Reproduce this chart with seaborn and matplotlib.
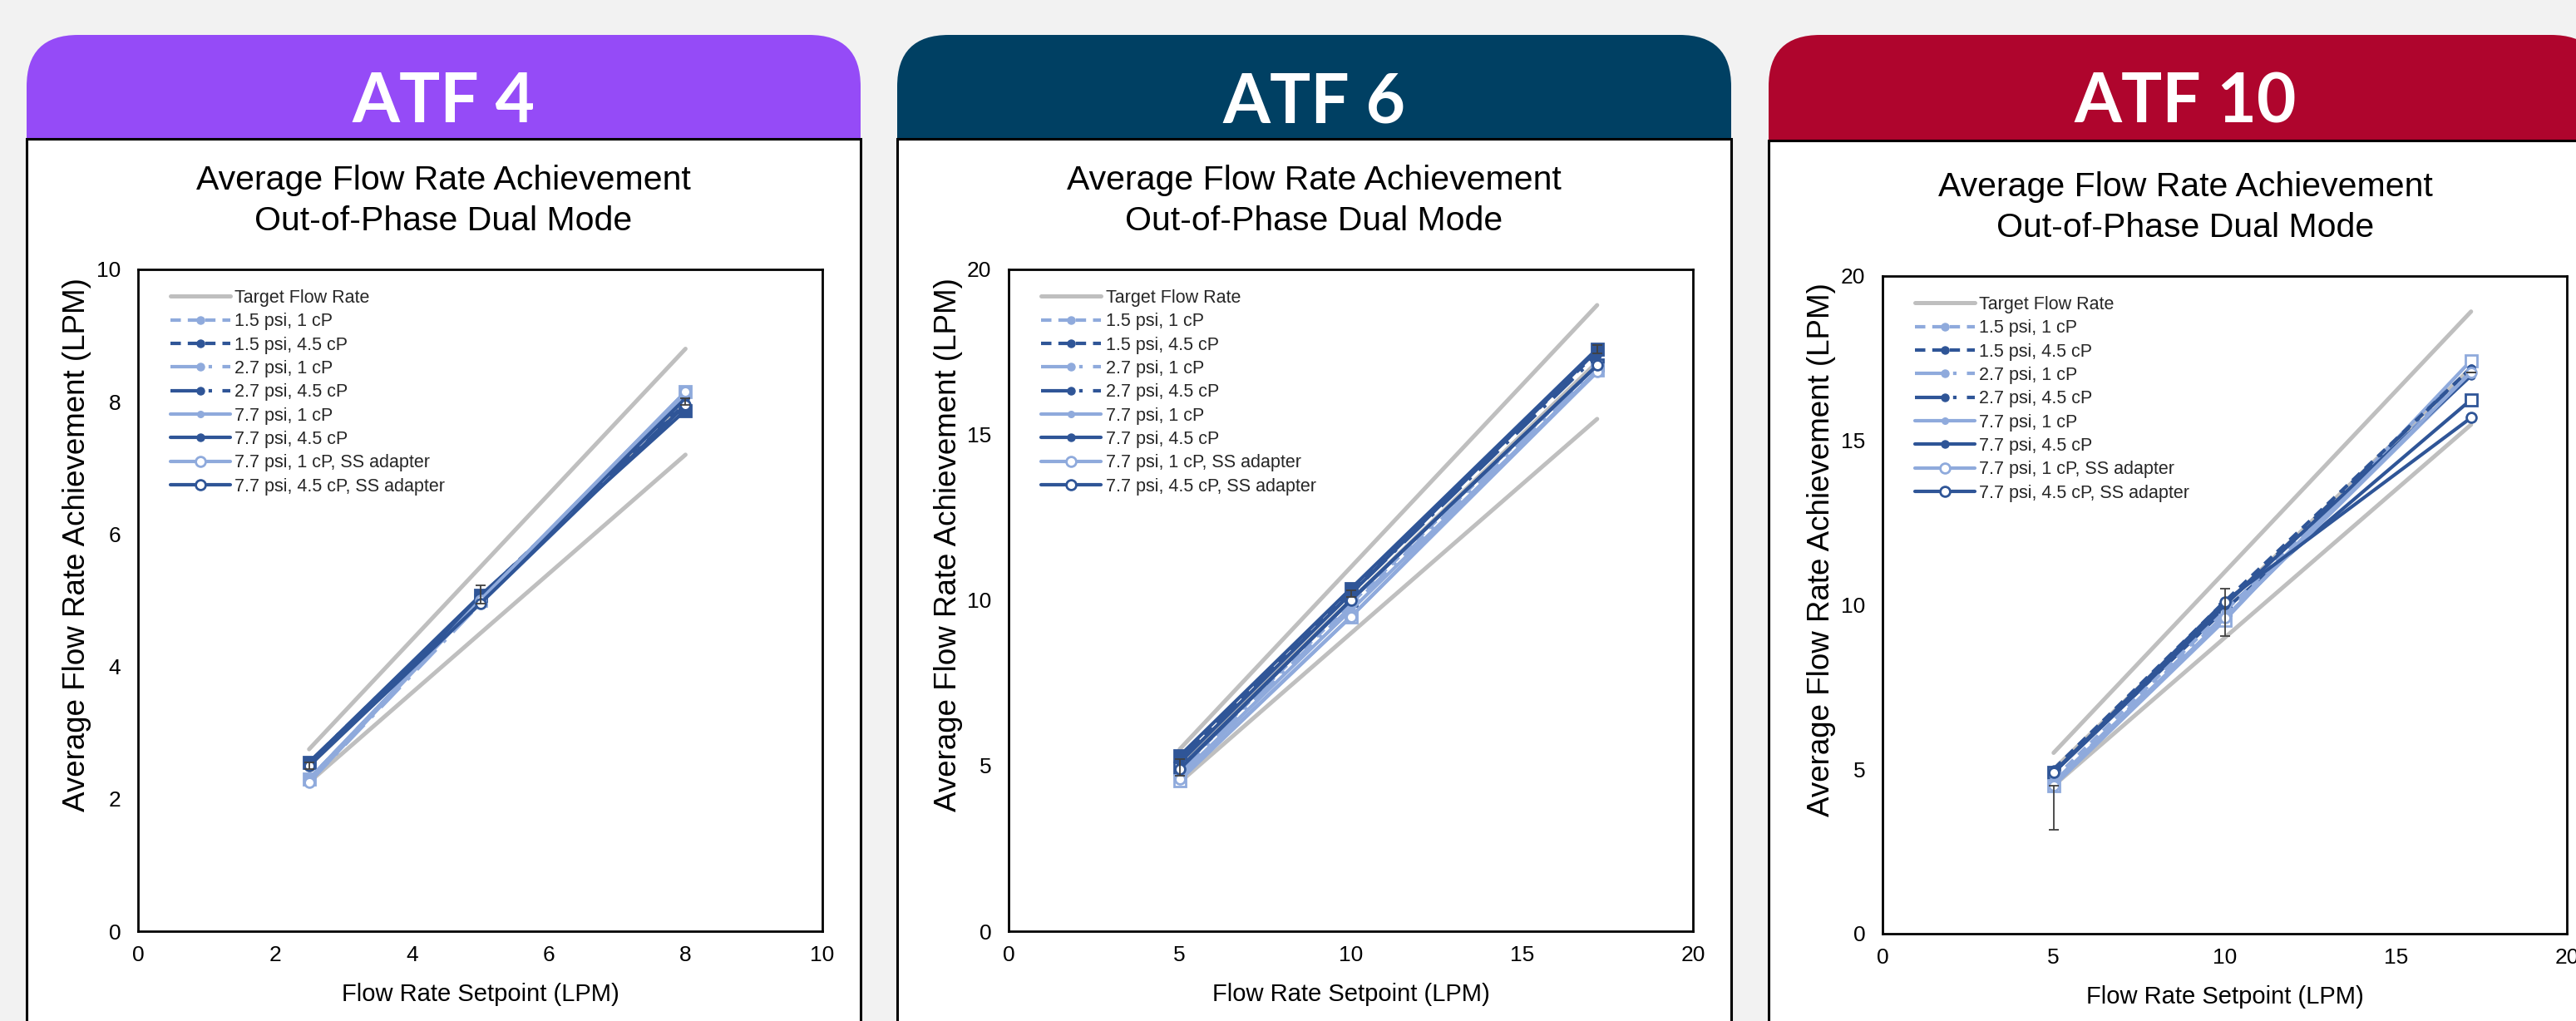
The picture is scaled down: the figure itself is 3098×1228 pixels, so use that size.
"""
Three ATF panels: average flow rate achievement, out-of-phase dual mode.
"""

## Import packages
import matplotlib
matplotlib.use("Agg")
import matplotlib.pyplot as plt
from matplotlib.patches import FancyBboxPatch, Rectangle
import seaborn as sns


## Data
panel_names = ["ATF 4", "ATF 6", "ATF 10"]
series_labels = ["1.5 psi, 1 cP", "1.5 psi, 4.5 cP", "2.7 psi, 1 cP", "2.7 psi, 4.5 cP",
                 "7.7 psi, 1 cP", "7.7 psi, 4.5 cP",
                 "7.7 psi, 1 cP, SS adapter", "7.7 psi, 4.5 cP, SS adapter"]

# ATF 4
atf4_setpoints = [2.5, 5, 8]
atf4_target = [2.5, 5, 8]
atf4_upper = [2.75, 8.8]
atf4_lower = [2.25, 7.2]
atf4_flow = [[2.30, 5.00, 8.10],
             [2.50, 5.05, 8.00],
             [2.25, 4.95, 8.05],
             [2.55, 5.05, 7.95],
             [2.30, 5.00, 8.10],
             [2.55, 5.00, 8.05],
             [2.25, 5.00, 8.15],
             [2.50, 4.95, 7.95]]
atf4_repeat = [[2.30, 5.00, 8.15],
               [2.55, 5.07, 7.87]]
atf4_err_lo = [0.05, 0.10, 0.05]
atf4_err_hi = [0.05, 0.17, 0.05]

# ATF 6
atf6_setpoints = [5, 10, 17.2]
atf6_target = [5, 10, 17.2]
atf6_upper = [5.5, 18.92]
atf6_lower = [4.5, 15.48]
atf6_flow = [[4.90, 9.90, 17.10],
             [5.20, 10.30, 17.50],
             [4.80, 9.80, 17.00],
             [5.20, 10.20, 17.40],
             [4.70, 9.70, 16.90],
             [5.10, 10.20, 17.55],
             [4.60, 9.50, 16.90],
             [4.90, 10.00, 17.10]]
atf6_repeat = [[5.30, 10.35, 17.60],
               [4.93, 10.00, 17.10],
               [4.56, 9.50, 16.95]]
atf6_err_lo = [0.40, 0.10, 0.10]
atf6_err_hi = [0.10, 0.10, 0.17]

# ATF 10
atf10_setpoints = [5, 10, 17.2]
atf10_target = [5, 10, 17.2]
atf10_upper = [5.5, 18.92]
atf10_lower = [4.5, 15.48]
atf10_flow = [[4.70, 9.80, 17.10],
              [5.00, 10.10, 17.20],
              [4.60, 9.70, 17.00],
              [4.90, 10.00, 17.20],
              [4.60, 9.60, 17.00],
              [4.90, 10.00, 16.97],
              [4.50, 9.60, 17.07],
              [4.90, 10.10, 15.69]]
atf10_repeat = [[4.90, 9.86, 16.24],
                [4.50, 9.53, 17.43]]
atf10_err_lo = [1.34, 0.54, 0.00]
atf10_err_hi = [0.00, 0.90, 0.00]


## Styles
light = '#8FAADC'
dark = '#2F5597'
grey = '#BFBFBF'
dash = (0, (3, 2))
ldd = (0, (8, 3, 1, 3))
series_colors = [light, dark, light, dark, light, dark, light, dark]
series_ls = [dash, dash, ldd, ldd, '-', '-', '-', '-']
series_ms = [6.5, 6.5, 6.5, 6.5, 5.5, 6.5, 8.5, 8.5]
series_open = [False] * 6 + [True, True]

# square-marker repeats: (colour, open?)
repeat_styles = [[(light, False), (dark, False)],
                 [(dark, False), (dark, True), (light, True)],
                 [(dark, True), (light, True)]]

## Layout (pixels)
W, H = 3098, 1228
box_left = [32, 1079, 2127]
box_w = 1003
header_colors = ['#954BF7', '#004063', '#AF052D']
axes_px = [(166, 324, 989, 1120), (1213, 324, 2036, 1120), (2264, 332, 3087, 1123)]
dy = [0, 0, 8]

# Font sizes
head = 59
title = 29.5
axlab = 21
ylab = 26.5
tick = 19
leg = 15.5

sns.set_theme(context='paper', style='white')
plt.rcParams['font.family'] = ['Liberation Sans', 'DejaVu Sans']

fig = plt.figure(figsize=(W / 100, H / 100), dpi=100, facecolor='#F2F2F2')

# Background canvas in pixel units
bg = fig.add_axes([0, 0, 1, 1])
bg.set_xlim(0, W)
bg.set_ylim(H, 0)
bg.axis('off')

for i in range(3):
    x0 = box_left[i]
    cx = x0 + box_w / 2
    bg.add_patch(FancyBboxPatch((x0, 42), box_w, 200,
                                boxstyle='round,pad=0,rounding_size=62',
                                fc=header_colors[i], ec='none'))
    bg.add_patch(Rectangle((x0, 167 + dy[i] / 4), box_w, 1200, fc='white', ec='black', lw=2.2))
    bg.text(cx, 147, panel_names[i], color='white', fontsize=head, fontweight='bold',
            family=['Lato', 'DejaVu Sans'], ha='center', va='baseline')
    bg.text(cx, 228 + dy[i], "Average Flow Rate Achievement", fontsize=title,
            ha='center', va='baseline', color='black')
    bg.text(cx, 277 + dy[i], "Out-of-Phase Dual Mode", fontsize=title,
            ha='center', va='baseline', color='black')

panel_data = [
    (atf4_setpoints, atf4_target, atf4_upper, atf4_lower, atf4_flow, atf4_repeat,
     atf4_err_lo, atf4_err_hi, 1, 10, 2),
    (atf6_setpoints, atf6_target, atf6_upper, atf6_lower, atf6_flow, atf6_repeat,
     atf6_err_lo, atf6_err_hi, 5, 20, 5),
    (atf10_setpoints, atf10_target, atf10_upper, atf10_lower, atf10_flow, atf10_repeat,
     atf10_err_lo, atf10_err_hi, 6, 20, 5),
]

for i, (xs, tgt, up, lo, flow, rep, elo, ehi, eser, top, step) in enumerate(panel_data):
    l, t, r, b = axes_px[i]
    ax = fig.add_axes([l / W, 1 - b / H, (r - l) / W, (b - t) / H])
    ax.set_facecolor('white')

    # Target and +/-10% lines
    ends = [xs[0], xs[-1]]
    sns.lineplot(x=ends, y=up, ax=ax, color=grey, lw=3.6, legend=False)
    sns.lineplot(x=ends, y=lo, ax=ax, color=grey, lw=3.6, legend=False)
    sns.lineplot(x=xs, y=tgt, ax=ax, color=grey, lw=3.6, legend=False)
    handles = [ax.lines[-1]]

    # Repeated runs drawn with square markers (not in legend)
    for vals, (col, hollow) in zip(rep, repeat_styles[i]):
        sns.lineplot(x=xs, y=vals, ax=ax, color=col, lw=3, marker='s', markersize=10.5,
                     markerfacecolor='white' if hollow else col, markeredgecolor=col,
                     markeredgewidth=2, legend=False)

    # Main series
    for k in range(len(series_labels)):
        col = series_colors[k]
        sns.lineplot(x=xs, y=flow[k], ax=ax, color=col, linestyle=series_ls[k], lw=3,
                     marker='o', markersize=series_ms[k],
                     markerfacecolor='white' if series_open[k] else col,
                     markeredgecolor=col, markeredgewidth=2 if series_open[k] else 1,
                     legend=False)
        handles.append(ax.lines[-1])

    # Error bars
    ax.errorbar(xs, flow[eser], yerr=[elo, ehi], fmt='none', ecolor='#404040',
                elinewidth=1.3, capsize=4.5, capthick=1.3, zorder=5)

    ax.set_xlim(0, top)
    ax.set_ylim(0, top)
    ax.set_xticks(range(0, top + 1, step))
    ax.set_yticks(range(0, top + 1, step))
    ax.tick_params(axis='both', length=0, labelsize=tick, colors='black')
    ax.tick_params(axis='x', pad=12)
    ax.tick_params(axis='y', pad=15)
    for s in ax.spines.values():
        s.set_visible(True)
        s.set_color('black')
        s.set_linewidth(2)

    ax.set_xlabel("Flow Rate Setpoint (LPM)", fontsize=axlab, color='black')
    ax.xaxis.set_label_coords(0.5, -76 / (b - t))
    ax.xaxis.label.set_va('center')
    ax.set_ylabel("Average Flow Rate Achievement (LPM)", fontsize=ylab, color='black')
    ax.yaxis.set_label_coords(-73 / (r - l), 0.584)
    ax.yaxis.label.set_va('center')

    ax.legend(handles, ["Target Flow Rate"] + series_labels, loc='upper left',
              bbox_to_anchor=(39 / (r - l), 1 - 24 / (b - t)), frameon=False,
              fontsize=leg, handlelength=3.35, handletextpad=0.25, labelspacing=0.34,
              borderpad=0, borderaxespad=0)

plt.savefig("out.png", dpi=100, facecolor=fig.get_facecolor())
